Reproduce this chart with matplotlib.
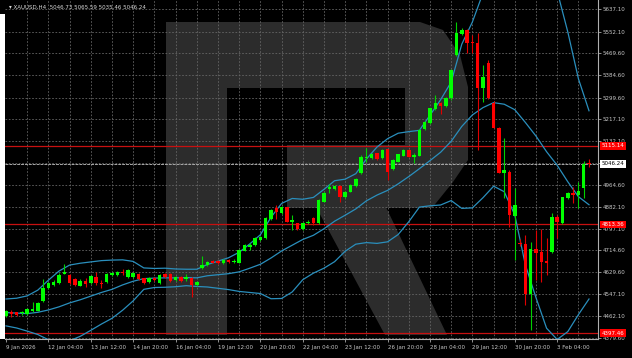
import matplotlib
matplotlib.use("Agg")
import matplotlib.pyplot as plt
import numpy as np
from matplotlib.patches import Polygon, Rectangle
from matplotlib.transforms import blended_transform_factory

# ─── Data ────────────────────────────────────────────────────────────────────

title = "XAUUSD,H4  5046.73 5065.59 5035.46 5046.24"

opens = [4463, 4479, 4477, 4474, 4471, 4482, 4483, 4520, 4570, 4582,
         4588, 4624, 4620, 4605, 4579, 4598, 4588, 4613, 4590, 4592,
         4620, 4620, 4633, 4613, 4613, 4623, 4607, 4594, 4610, 4588,
         4623, 4623, 4601, 4613, 4604, 4607, 4582, 4646, 4658, 4675,
         4674, 4665, 4677, 4670, 4667, 4713, 4728, 4735, 4754, 4760,
         4833, 4875, 4858, 4879, 4824, 4818, 4795, 4818, 4837, 4820,
         4901, 4948, 4950, 4961, 4917, 4939, 4961, 5009, 5067, 5067,
         5086, 5067, 5101, 5025, 5054, 5077, 5099, 5073, 5077, 5179,
         5203, 5255, 5277, 5267, 5297, 5462, 5543, 5558, 5513, 5507,
         5335, 5433, 5280, 5182, 5012, 5016, 4846, 4744, 4739, 4547,
         4719, 4709, 4675, 4709, 4841, 4820, 4916, 4933, 4926, 4952,
         5046.73]
highs = [4486, 4484, 4480, 4482, 4493, 4518, 4516, 4605, 4593, 4601,
         4628, 4662, 4624, 4608, 4603, 4608, 4620, 4633, 4601, 4626,
         4631, 4635, 4642, 4641, 4630, 4628, 4610, 4612, 4614, 4624,
         4628, 4626, 4616, 4618, 4624, 4612, 4597, 4693, 4674, 4677,
         4677, 4681, 4681, 4681, 4720, 4739, 4741, 4767, 4769, 4842,
         4873, 4888, 4884, 4882, 4850, 4820, 4823, 4829, 4843, 4911,
         4936, 4968, 4965, 4965, 4942, 4968, 4990, 5078, 5105, 5087,
         5089, 5102, 5104, 5064, 5085, 5102, 5102, 5086, 5179, 5208,
         5261, 5309, 5284, 5300, 5409, 5590, 5565, 5562, 5539, 5546,
         5424, 5443, 5286, 5187, 5145, 5022, 4953, 4758, 4773, 4748,
         4792, 4796, 4762, 4857, 4850, 4918, 4936, 4958, 4977, 5055,
         5065.59]
lows = [4459, 4460, 4461, 4468, 4467, 4479, 4482, 4517, 4566, 4578,
        4585, 4622, 4587, 4578, 4576, 4575, 4585, 4582, 4569, 4589,
        4616, 4616, 4620, 4610, 4610, 4601, 4587, 4591, 4597, 4585,
        4610, 4595, 4597, 4595, 4597, 4537, 4578, 4643, 4654, 4664,
        4662, 4662, 4666, 4664, 4664, 4710, 4716, 4731, 4750, 4758,
        4830, 4833, 4853, 4821, 4792, 4792, 4792, 4815, 4811, 4817,
        4898, 4933, 4947, 4899, 4915, 4936, 4957, 5007, 5054, 5064,
        5060, 5064, 4984, 5022, 5051, 5074, 5070, 5048, 5074, 5175,
        5200, 5252, 5237, 5263, 5292, 5459, 5539, 5470, 5469, 5099,
        5284, 5294, 5182, 5012, 4915, 4805, 4677, 4731, 4505, 4409,
        4601, 4594, 4620, 4706, 4760, 4817, 4911, 4895, 4875, 4915,
        5035.46]
closes = [4482, 4470, 4468, 4477, 4490, 4490, 4513, 4571, 4589, 4594,
          4620, 4631, 4590, 4582, 4598, 4585, 4616, 4589, 4584, 4623,
          4628, 4633, 4626, 4639, 4626, 4604, 4590, 4610, 4601, 4620,
          4613, 4598, 4613, 4598, 4613, 4582, 4594, 4658, 4670, 4667,
          4665, 4677, 4670, 4675, 4716, 4735, 4735, 4763, 4766, 4837,
          4869, 4862, 4882, 4824, 4831, 4795, 4820, 4824, 4820, 4907,
          4933, 4958, 4961, 4917, 4939, 4965, 4986, 5073, 5073, 5083,
          5063, 5099, 5015, 5060, 5082, 5099, 5073, 5080, 5175, 5205,
          5258, 5277, 5267, 5297, 5405, 5546, 5558, 5510, 5507, 5335,
          5379, 5297, 5182, 5012, 5022, 4850, 4888, 4737, 4547, 4719,
          4705, 4671, 4665, 4841, 4824, 4917, 4933, 4926, 4943, 5046.7,
          5046.24]

# Bollinger bands (read every second bar)
bb_bars = [0, 2, 4, 6, 8, 10, 12, 14, 16, 18, 20, 22, 24, 26, 28, 30, 32, 34,
           36, 38, 40, 42, 44, 46, 48, 50, 52, 54, 56, 58, 60, 62, 64, 66, 68,
           70, 72, 74, 76, 78, 80, 82, 84, 86, 88, 90, 92, 94, 96, 98, 100,
           102, 104, 106, 108, 110]
bb_upper = [4528, 4531, 4540, 4562, 4600, 4635, 4658, 4665, 4670, 4675,
            4677, 4678, 4672, 4647, 4645, 4646, 4643, 4642, 4642, 4660,
            4673, 4686, 4707, 4739, 4774, 4841, 4894, 4913, 4910, 4917,
            4948, 4981, 4987, 5008, 5064, 5110, 5142, 5163, 5169, 5174,
            5232, 5291, 5359, 5504, 5589, 5700, 5740, 5750, 5760, 5770,
            5780, 5768, 5707, 5551, 5372, 5249]
bb_middle = [4476, 4474, 4472, 4477, 4486, 4498, 4513, 4525, 4539, 4553,
             4565, 4582, 4596, 4606, 4608, 4609, 4609, 4610, 4609, 4617,
             4621, 4625, 4632, 4646, 4661, 4685, 4712, 4734, 4756, 4772,
             4797, 4826, 4849, 4873, 4904, 4926, 4944, 4969, 4997, 5027,
             5058, 5090, 5132, 5189, 5233, 5261, 5280, 5274, 5253, 5204,
             5152, 5092, 5040, 4977, 4920, 4889]
bb_lower = [4425, 4417, 4405, 4392, 4372, 4362, 4368, 4385, 4408, 4432,
            4454, 4485, 4521, 4565, 4572, 4573, 4575, 4579, 4576, 4574,
            4569, 4564, 4557, 4553, 4549, 4529, 4530, 4555, 4602, 4627,
            4646, 4671, 4711, 4738, 4744, 4741, 4747, 4775, 4824, 4880,
            4885, 4888, 4905, 4875, 4877, 4916, 4960, 4939, 4850, 4658,
            4533, 4416, 4373, 4403, 4468, 4528]

level_lines = [5115.14, 4813.36, 4397.46]
current_price = 5046.24

price_ticks = [5637.10, 5552.10, 5469.60, 5384.60, 5299.60, 5217.10, 5132.10,
               5049.60, 4964.60, 4882.10, 4797.10, 4714.60, 4629.60, 4547.10,
               4462.10, 4379.60]

date_bars = [0, 8, 16, 24, 32, 40, 48, 56, 64, 72, 80, 88, 96, 104]
date_labels = ["9 Jan 2026", "12 Jan 04:00", "13 Jan 12:00", "14 Jan 20:00",
               "16 Jan 04:00", "19 Jan 12:00", "20 Jan 20:00", "22 Jan 04:00",
               "23 Jan 12:00", "26 Jan 20:00", "28 Jan 04:00", "29 Jan 12:00",
               "30 Jan 20:00", "3 Feb 04:00"]

# ─── Figure ──────────────────────────────────────────────────────────────────

W, H = 632, 358
fig = plt.figure(figsize=(W / 100, H / 100), dpi=100, facecolor="black")
ax = fig.add_axes([5 / W, 19 / H, 593 / W, 339 / H])
ax.set_facecolor("black")

ax.set_xlim(-0.19, 111.7)
ax.set_ylim(4374.8, 5673.15)

# thin white border strip at the far left
fig.patches.append(Rectangle((0, 19 / H), 5 / W, 325 / H, transform=fig.transFigure,
                             facecolor="white", edgecolor="none", zorder=0))

# watermark "R" (axes fraction coords, from the pixel layout)
def px(x, y):
    return ((x - 5) / 593, (339 - y) / 339)

stem = [px(166, 22), px(227, 22), px(227, 335), px(166, 335)]
bowl = [px(227, 22), px(420, 22), px(443, 30), px(460, 55), px(468, 87),
        px(468, 160), px(453, 182), px(432, 208), px(287, 208), px(287, 145),
        px(405, 145), px(405, 88), px(227, 88)]
leg = [px(315, 205), px(385, 205), px(447, 335), px(385, 335)]
for shape in (stem, bowl, leg):
    ax.add_patch(Polygon(shape, closed=True, transform=ax.transAxes,
                         facecolor="#2c2c2c", edgecolor="none", zorder=0))

# grid
grid_col = "#666666"
for b in range(4, 112, 4):
    ax.axvline(b, color=grid_col, lw=0.6, ls=(0, (2, 2)), zorder=1)
for p in price_ticks:
    ax.axhline(p, color=grid_col, lw=0.6, ls=(0, (2, 2)), zorder=1)

# level lines
for lv in level_lines:
    ax.axhline(lv, color="#c81010", lw=0.9, zorder=2)
ax.axhline(current_price, color="#a8a8a8", lw=0.7, ls=(0, (3, 1)), zorder=2)

# bands
band_col = "#2a8fbd"
for band in (bb_upper, bb_middle, bb_lower):
    ax.plot(bb_bars, band, color=band_col, lw=0.9, zorder=3)

# candles
o = np.array(opens)
h = np.array(highs)
l = np.array(lows)
c = np.array(closes)
idx = np.arange(len(o))
up = c >= o
cols = np.where(up, "#00ff00", "#ff0000")
wick_cols = np.where(up, "#00d000", "#e00000")
ax.vlines(idx, l, h, colors=wick_cols, lw=0.8, zorder=4)
body_h = np.maximum(np.abs(c - o), 2.5)
ax.bar(idx, body_h, bottom=np.minimum(o, c), width=0.66, color=cols,
       linewidth=0, zorder=5)

# axes styling
for s in ("top", "left"):
    ax.spines[s].set_visible(False)
for s in ("right", "bottom"):
    ax.spines[s].set_color("#b0b0b0")
    ax.spines[s].set_linewidth(0.8)
ax.yaxis.tick_right()
ax.set_yticks(price_ticks)
ax.set_yticklabels([f"{p:.2f}" for p in price_ticks])
ax.tick_params(axis="y", colors="#c8c8c8", labelsize=4, length=2, pad=1.5,
               width=0.5)
ax.set_xticks(date_bars)
ax.set_xticklabels(date_labels, ha="left")
ax.tick_params(axis="x", colors="#c8c8c8", labelsize=4, length=2, pad=2,
               width=0.5)

# price boxes on the right scale
tr = blended_transform_factory(ax.transAxes, ax.transData)
for lv in level_lines:
    ax.text(1.006, lv, f"{lv:.2f}", transform=tr, fontsize=4, color="white",
            va="center", ha="left", zorder=10, clip_on=False,
            bbox=dict(boxstyle="square,pad=0.25", fc="#ff0000", ec="none"))
ax.text(1.006, current_price, f"{current_price:.2f}", transform=tr, fontsize=4,
        color="black", va="center", ha="left", zorder=10, clip_on=False,
        bbox=dict(boxstyle="square,pad=0.25", fc="white", ec="none"))

# title
ax.text(0.006, 0.978, "\u25be " + title, transform=ax.transAxes, fontsize=4,
        color="#d8d8d8", va="center", ha="left", zorder=10)

fig.savefig("out.png", dpi=100, facecolor="black")
